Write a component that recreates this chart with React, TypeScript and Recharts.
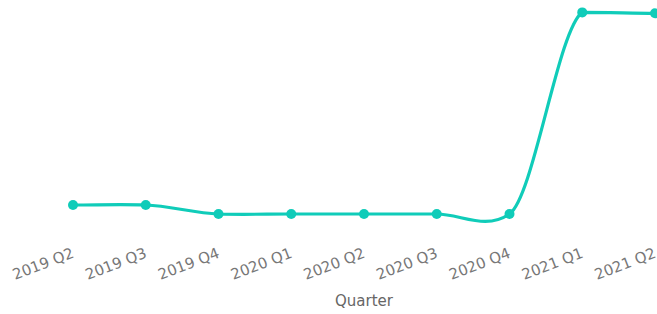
// Quarterly trend line - smoothed teal series over quarters

import React from 'react';
import { LineChart, Line, XAxis, YAxis } from 'recharts';

const quarters = [
    '2019 Q2', '2019 Q3', '2019 Q4',
    '2020 Q1', '2020 Q2', '2020 Q3', '2020 Q4',
    '2021 Q1', '2021 Q2'
];
const values = [2, 2, 1, 1, 1, 1, 1, 23.4, 23.3];

const data = quarters.map((quarter, i) => ({ quarter, value: values[i] }));

const LINE_COLOR = '#10CCB9';
const TEXT_COLOR = '#777777';
const FONT = '"DejaVu Sans", sans-serif';

// Hermite spline with cardinal-style tangents; tangents that point against
// a segment's direction are flattened (keeps the overshoot only where it shows)
const K = 0.25;
const smoothCurve = (context: any) => {
    let pts: number[][] = [];
    const tangent = (i: number) => {
        const n = pts.length;
        if (n < 2) return 0;
        if (i === 0) return 2 * K * (pts[1][1] - pts[0][1]);
        if (i === n - 1) return 2 * K * (pts[n - 1][1] - pts[n - 2][1]);
        return K * (pts[i + 1][1] - pts[i - 1][1]);
    };
    return {
        areaStart() {},
        areaEnd() {},
        lineStart() { pts = []; },
        point(x: number, y: number) { pts.push([x, y]); },
        lineEnd() {
            if (!pts.length) return;
            context.moveTo(pts[0][0], pts[0][1]);
            for (let i = 0; i < pts.length - 1; i++) {
                const [x0, y0] = pts[i];
                const [x1, y1] = pts[i + 1];
                const dy = y1 - y0;
                let a = tangent(i);
                let b = tangent(i + 1);
                if (Math.abs(dy) > 0.5) {
                    if (Math.sign(a) !== Math.sign(dy)) a = 0;
                    if (Math.sign(b) !== Math.sign(dy)) b = 0;
                }
                const dx = x1 - x0;
                context.bezierCurveTo(x0 + dx / 3, y0 + a / 3, x1 - dx / 3, y1 - b / 3, x1, y1);
            }
        }
    };
};

const QuarterTick = (props: any) => {
    const { x, y, payload } = props;
    const tx = x + 2;
    const ty = y + 34;
    return (
        <text
            x={tx}
            y={ty}
            transform={`rotate(-21, ${tx}, ${ty})`}
            textAnchor="end"
            fill={TEXT_COLOR}
            fontSize={15}
            fontFamily={FONT}
        >
            {payload.value}
        </text>
    );
};

const App = () => {
    return (
        <div style={{ position: 'fixed', left: 0, top: 0, width: 657, height: 314, background: '#fff' }}>
            <LineChart
                width={657}
                height={314}
                data={data}
                margin={{ top: 7, right: 2, bottom: 0, left: 73 }}
            >
                <XAxis
                    dataKey="quarter"
                    axisLine={false}
                    tickLine={false}
                    tickSize={0}
                    tickMargin={0}
                    height={91}
                    interval={0}
                    tick={<QuarterTick />}
                    label={{
                        value: 'Quarter',
                        position: 'insideBottom',
                        offset: 8,
                        fill: '#666666',
                        fontSize: 15,
                        fontFamily: FONT
                    }}
                />
                <YAxis hide domain={[0, 24]} />
                <Line
                    type={smoothCurve as any}
                    dataKey="value"
                    stroke={LINE_COLOR}
                    strokeWidth={3.2}
                    dot={{ r: 5, fill: LINE_COLOR, stroke: LINE_COLOR, strokeWidth: 0 }}
                    isAnimationActive={false}
                />
            </LineChart>
        </div>
    );
};

export default App;
